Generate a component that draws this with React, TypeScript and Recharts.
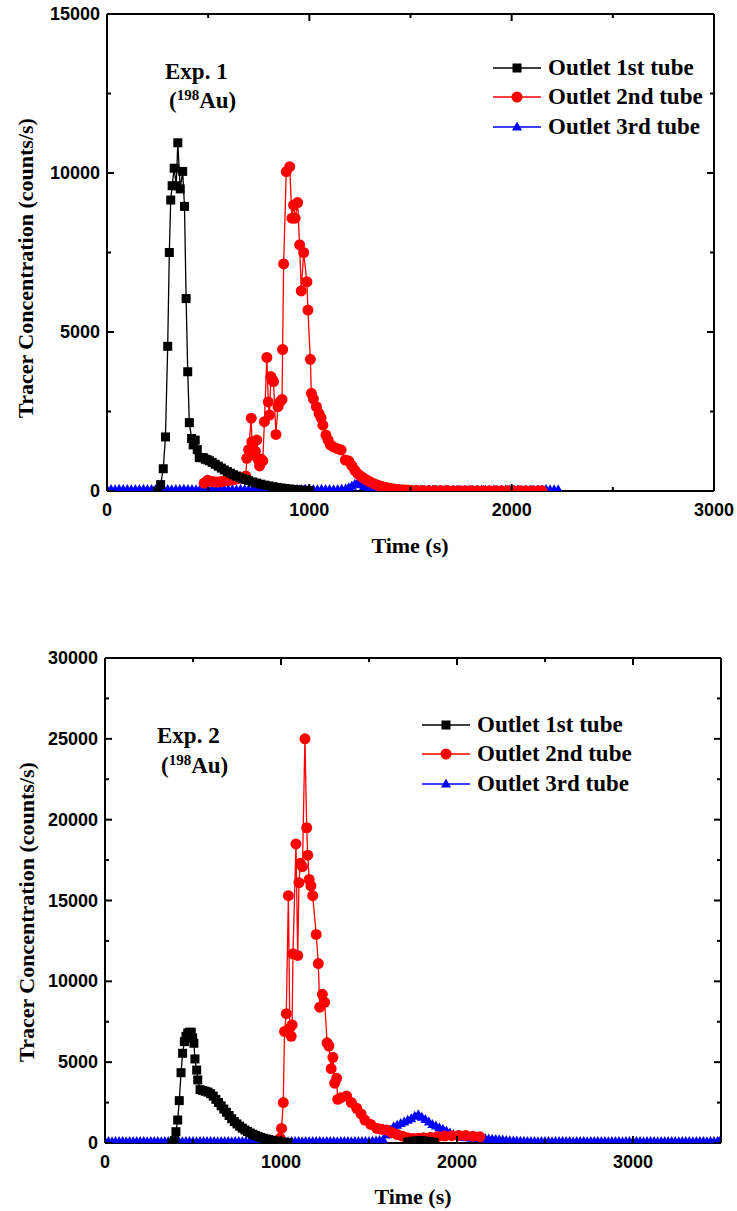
import React from 'react';
import { LineChart, Line, XAxis, YAxis, Legend } from 'recharts';

const SERIF = '"Liberation Serif", "Times New Roman", serif';
const SANS = '"Liberation Sans", Arial, sans-serif';

// ---- Exp. 1 ----
const exp1Tube1Time = [250, 265, 278, 289, 300, 308, 315, 322, 332, 342, 350, 362, 374, 383, 391, 399, 407, 418, 426, 436, 446, 456, 466, 476, 486, 496, 506, 520, 535, 550, 565, 580, 595, 610, 625, 640, 655, 670, 685, 700, 720, 740, 760, 780, 800, 820, 840, 860, 880, 900, 920, 940, 960, 980, 1000];
const exp1Tube1Counts = [0, 200, 700, 1700, 4550, 7500, 9150, 9600, 10150, 9600, 10950, 9500, 10050, 8950, 6050, 3750, 2150, 1650, 1450, 1600, 1300, 1050, 1050, 1050, 1000, 980, 950, 900, 840, 780, 720, 660, 610, 560, 510, 470, 430, 395, 360, 325, 285, 250, 215, 185, 160, 135, 115, 95, 80, 65, 50, 40, 30, 20, 10];

const exp1Tube2Time = [480, 498, 515, 530, 545, 560, 575, 590, 609, 625, 640, 658, 672, 686, 691, 700, 713, 716, 725, 733, 740, 748, 754, 762, 770, 778, 790, 797, 803, 810, 817, 823, 835, 845, 855, 865, 868, 873, 886, 903, 914, 922, 930, 942, 952, 960, 972, 988, 993, 1005, 1010, 1020, 1035, 1048, 1058, 1067, 1082, 1093, 1104, 1120, 1140, 1157, 1178, 1195, 1210, 1225, 1240, 1255, 1270, 1285, 1300, 1320, 1340, 1360, 1380, 1400, 1420, 1440, 1460, 1480, 1500, 1530, 1560, 1590, 1620, 1650, 1680, 1710, 1740, 1770, 1800, 1830, 1860, 1890, 1920, 1950, 1980, 2010, 2040, 2070, 2100, 2130, 2150];
const exp1Tube2Counts = [250, 340, 300, 290, 280, 290, 310, 320, 340, 360, 380, 400, 430, 470, 1030, 1300, 2290, 1550, 1130, 1250, 1600, 990, 790, 1000, 945, 2180, 4200, 2800, 2390, 3600, 3500, 3440, 1780, 2650, 2800, 2880, 4450, 7140, 10040, 10200, 8580, 8990, 8580, 9070, 7740, 6290, 7500, 6580, 5690, 4140, 3070, 2900, 2650, 2440, 2300, 2070, 1760, 1600, 1450, 1380, 1330, 1290, 975, 940, 800, 650, 540, 460, 400, 340, 290, 230, 180, 140, 110, 85, 65, 50, 40, 30, 25, 20, 18, 15, 14, 12, 12, 10, 10, 10, 8, 8, 8, 6, 6, 6, 5, 5, 5, 5, 5, 5, 5];

const exp1Tube3Time = [
  0, 20, 40, 60, 80, 100, 120, 140, 160, 180, 200, 220, 240, 260, 280, 300, 320, 340, 360, 380,
  400, 420, 440, 460, 480, 500, 520, 540, 560, 580, 600, 620, 640, 660, 680, 700, 720, 740, 760, 780,
  800, 820, 840, 860, 880, 900, 920, 940, 960, 980, 1000, 1020, 1040, 1060, 1080, 1100, 1120, 1140, 1160, 1180,
  1195, 1210, 1225, 1240, 1255, 1270, 1290, 1310, 1330,
  1350, 1370, 1390, 1410, 1430, 1450, 1470, 1490, 1510, 1530, 1550, 1570, 1590, 1610, 1630, 1650, 1670, 1690, 1710, 1730,
  1750, 1770, 1790, 1810, 1830, 1850, 1870, 1890, 1910, 1930, 1950, 1970, 1990, 2010, 2030, 2050, 2070, 2090, 2110, 2130,
  2150, 2170, 2190, 2210, 2230,
];
const exp1Tube3Counts = [
  45, 50, 40, 55, 45, 50, 40, 50, 45, 55, 45, 50, 40, 55, 45, 50, 40, 50, 45, 55,
  45, 50, 40, 55, 45, 50, 40, 50, 45, 55, 45, 50, 40, 55, 45, 50, 40, 50, 45, 55,
  45, 50, 40, 55, 45, 50, 40, 50, 45, 55, 45, 50, 40, 55, 45, 50, 40, 50, 60, 70,
  100, 150, 210, 270, 200, 140, 90, 65, 50,
  45, 40, 35, 30, 30, 25, 25, 30, 25, 25, 30, 25, 25, 30, 25, 25, 30, 25, 25, 30,
  25, 25, 30, 25, 25, 30, 25, 25, 30, 25, 25, 30, 25, 25, 30, 25, 25, 30, 25, 35,
  40, 45, 40, 40, 40,
];

// ---- Exp. 2 ----
const exp2Tube1Time = [380, 395, 403, 413, 422, 432, 441, 451, 460, 470, 480, 490, 498, 505, 511, 521, 527, 540, 555, 570, 585, 600, 615, 630, 645, 660, 675, 690, 705, 720, 735, 750, 765, 780, 795, 810, 825, 840, 855, 870, 885, 900, 915, 930, 945, 960, 975, 990, 1005, 1020, 1040, 1400, 1720, 1750, 1780, 1810, 1840, 1870];
const exp2Tube1Counts = [0, 150, 700, 1420, 2620, 4350, 5550, 6270, 6600, 6800, 6850, 6850, 6500, 6170, 5200, 4510, 3900, 3300, 3250, 3200, 3150, 3050, 2900, 2700, 2500, 2300, 2100, 1900, 1700, 1500, 1330, 1180, 1040, 920, 810, 710, 620, 540, 470, 400, 340, 290, 250, 210, 170, 140, 110, 80, 60, 40, 20, null, 60, 120, 160, 140, 90, 40];

const exp2Tube2Time = [995, 1003, 1013, 1020, 1030, 1042, 1050, 1058, 1063, 1068, 1085, 1095, 1102, 1110, 1122, 1136, 1146, 1152, 1160, 1170, 1180, 1200, 1212, 1220, 1235, 1248, 1262, 1272, 1285, 1295, 1305, 1316, 1322, 1340, 1373, 1400, 1430, 1455, 1477, 1510, 1544, 1570, 1600, 1630, 1660, 1690, 1720, 1750, 1780, 1810, 1850, 1890, 1930, 1970, 2010, 2050, 2090, 2130];
const exp2Tube2Counts = [300, 900, 2500, 6900, 8000, 15300, 7100, 6600, 7300, 11700, 18500, 11600, 16100, 17300, 17100, 25000, 19500, 17800, 16300, 15900, 15300, 12900, 11100, 8400, 9200, 8700, 6200, 6000, 4600, 5300, 3700, 4000, 2700, 2800, 2900, 2500, 2150, 1800, 1420, 1150, 910, 850, 800, 650, 520, 420, 330, 280, 300, 320, 360, 400, 430, 450, 470, 460, 420, 380];

const exp2Tube3Time = [
  0, 20, 40, 60, 80, 100, 120, 140, 160, 180, 200, 220, 240, 260, 280, 300, 320, 340, 360, 380,
  400, 420, 440, 460, 480, 500, 520, 540, 560, 580, 600, 620, 640, 660, 680, 700, 720, 740, 760, 780,
  800, 820, 840, 860, 880, 900, 920, 940, 960, 980, 1000, 1020, 1040, 1060, 1080, 1100, 1120, 1140, 1160, 1180,
  1200, 1220, 1240, 1260, 1280, 1300, 1320, 1340, 1360, 1380, 1400, 1420, 1440, 1460, 1480, 1500, 1520, 1540, 1560,
  1580, 1600, 1620, 1640, 1660, 1680, 1700, 1720, 1740, 1760, 1780, 1800, 1820, 1840, 1860, 1880, 1900, 1920, 1940, 1960,
  1980, 2000, 2020, 2040, 2060, 2080, 2100, 2120, 2140, 2160, 2180, 2200, 2220, 2240, 2260, 2280, 2300, 2320, 2340, 2360,
  2380, 2400,
  2420, 2440, 2460, 2480, 2500, 2520, 2540, 2560, 2580, 2600, 2620, 2640, 2660, 2680, 2700, 2720, 2740, 2760, 2780, 2800,
  2820, 2840, 2860, 2880, 2900, 2920, 2940, 2960, 2980, 3000, 3020, 3040, 3060, 3080, 3100, 3120, 3140, 3160, 3180, 3200,
  3220, 3240, 3260, 3280, 3300, 3320, 3340, 3360, 3380, 3400, 3420, 3440, 3460, 3480, 3490,
];
const exp2Tube3Counts = [
  90, 100, 85, 95, 90, 100, 85, 95, 90, 100, 90, 100, 85, 95, 90, 100, 85, 95, 90, 100,
  90, 100, 85, 95, 90, 100, 85, 95, 90, 100, 90, 100, 85, 95, 90, 100, 85, 95, 90, 100,
  90, 100, 85, 95, 90, 100, 85, 95, 90, 100, 90, 100, 85, 95, 90, 100, 85, 95, 90, 100,
  90, 100, 85, 95, 90, 100, 85, 95, 90, 100, 85, 95, 90, 100, 95, 100, 110, 120, 150,
  200, 500, 800, 1000, 1100, 1200, 1300, 1400, 1500, 1650, 1750, 1600, 1450, 1300, 1150, 1050, 950, 850, 750, 620,
  520, 420, 370, 350, 330, 310, 290, 280, 270, 260, 250, 235, 220, 200, 180, 160, 145, 130, 120, 110,
  105, 100,
  90, 100, 85, 95, 90, 100, 85, 95, 90, 100, 90, 100, 85, 95, 90, 100, 85, 95, 90, 100,
  90, 100, 85, 95, 90, 100, 85, 95, 90, 100, 90, 100, 85, 95, 90, 100, 85, 95, 90, 100,
  90, 100, 85, 95, 90, 100, 85, 95, 90, 100, 85, 95, 90, 100, 90,
];

type Pt = { t: number; v: number | null };
const toPoints = (ts: number[], vs: (number | null)[]): Pt[] => ts.map((t, i) => ({ t, v: vs[i] }));

type Shape = 'square' | 'circle' | 'triangle';
interface SeriesDef { key: string; name: string; color: string; shape: Shape; data: Pt[] }

const LEGEND = [
  { name: 'Outlet 1st tube', color: '#000000', shape: 'square' as Shape },
  { name: 'Outlet 2nd tube', color: '#ff0000', shape: 'circle' as Shape },
  { name: 'Outlet 3rd tube', color: '#0000ff', shape: 'triangle' as Shape },
];

function markerEl(shape: Shape, cx: number, cy: number, color: string, key?: any) {
  if (shape === 'square') return <rect key={key} x={cx - 4.5} y={cy - 4.5} width={9} height={9} fill={color} />;
  if (shape === 'circle') return <circle key={key} cx={cx} cy={cy} r={5.5} fill={color} />;
  return <path key={key} d={`M${cx},${cy - 5.5}L${cx + 5},${cy + 3.5}L${cx - 5},${cy + 3.5}Z`} fill={color} />;
}

function AxisTick(props: any) {
  const { x, y, payload, side, majors } = props;
  const v = payload.value;
  const major = majors.includes(v);
  const len = major ? 7 : 4;
  const s = { stroke: '#000', strokeWidth: 2 };
  const labelStyle = { fontFamily: SANS, fontWeight: 700, fontSize: 18, fill: '#000' };
  if (side === 'left') {
    return (
      <g>
        <line x1={x} y1={y} x2={x + len} y2={y} {...s} />
        {major && <text x={x - 7} y={y} textAnchor="end" dominantBaseline="central" style={labelStyle}>{v}</text>}
      </g>
    );
  }
  if (side === 'right') return <line x1={x} y1={y} x2={x - len} y2={y} {...s} />;
  if (side === 'top') return <line x1={x} y1={y} x2={x} y2={y + len} {...s} />;
  return (
    <g>
      <line x1={x} y1={y} x2={x} y2={y - len} {...s} />
      {major && <text x={x} y={y + 19} textAnchor="middle" dominantBaseline="central" style={labelStyle}>{v}</text>}
    </g>
  );
}

function LegendBox() {
  return (
    <div style={{ fontFamily: SERIF, fontWeight: 700, fontSize: 23, color: '#000' }}>
      {LEGEND.map((it) => (
        <div key={it.name} style={{ display: 'flex', alignItems: 'center', height: 29.5, whiteSpace: 'nowrap' }}>
          <svg width={48} height={14} style={{ marginRight: 7 }}>
            <line x1={0} y1={7} x2={48} y2={7} stroke={it.color} strokeWidth={1.5} />
            {markerEl(it.shape, 24, 7, it.color)}
          </svg>
          <span>{it.name}</span>
        </div>
      ))}
    </div>
  );
}

interface PanelProps {
  top: number;
  height: number;
  margin: { top: number; right: number; bottom: number; left: number };
  xMax: number;
  yMax: number;
  xTicks: number[];
  xMajors: number[];
  yTicks: number[];
  yMajors: number[];
  series: SeriesDef[];
  legendPos: { left: number; top: number };
  yTitle: { x: number; y: number };
  xTitle: { x: number; y: number };
  expLabel: string;
  expPos: { left: number; top: number; lineHeight: number };
}

function Panel(p: PanelProps) {
  const axisLine = { stroke: '#000', strokeWidth: 2 };
  // two corner points so the mirrored top/right axes get the same domain
  const frame = [{ t: 0, v: 0 }, { t: p.xMax, v: p.yMax }];
  return (
    <div style={{ position: 'absolute', left: 0, top: p.top, width: 737, height: p.height }}>
      <LineChart width={737} height={p.height} margin={p.margin}>
        <XAxis
          xAxisId="b" dataKey="t" type="number" domain={[0, p.xMax]} ticks={p.xTicks} interval={0}
          allowDataOverflow height={50} tickSize={0} tickMargin={0} axisLine={axisLine} tickLine={false}
          tick={(tp: any) => <AxisTick {...tp} side="bottom" majors={p.xMajors} />}
          label={{ content: () => (
            <text x={p.xTitle.x} y={p.xTitle.y} textAnchor="middle" dominantBaseline="central"
              style={{ fontFamily: SERIF, fontWeight: 700, fontSize: 22, fill: '#000' }}>Time (s)</text>
          ) }}
        />
        <XAxis
          xAxisId="t" orientation="top" dataKey="t" type="number" domain={[0, p.xMax]} ticks={p.xTicks} interval={0}
          allowDataOverflow height={1} tickSize={0} tickMargin={0} axisLine={axisLine} tickLine={false}
          tick={(tp: any) => <AxisTick {...tp} side="top" majors={p.xMajors} />}
        />
        <YAxis
          yAxisId="l" type="number" domain={[0, p.yMax]} ticks={p.yTicks} interval={0}
          allowDataOverflow width={60} tickSize={0} tickMargin={0} axisLine={axisLine} tickLine={false}
          tick={(tp: any) => <AxisTick {...tp} side="left" majors={p.yMajors} />}
          label={{ content: () => (
            <text x={p.yTitle.x} y={p.yTitle.y} textAnchor="middle" dominantBaseline="central"
              transform={`rotate(-90 ${p.yTitle.x} ${p.yTitle.y})`}
              style={{ fontFamily: SERIF, fontWeight: 700, fontSize: 22, fill: '#000' }}>Tracer Concentration (counts/s)</text>
          ) }}
        />
        <YAxis
          yAxisId="r" orientation="right" type="number" domain={[0, p.yMax]} ticks={p.yTicks} interval={0}
          allowDataOverflow width={1} tickSize={0} tickMargin={0} axisLine={axisLine} tickLine={false}
          tick={(tp: any) => <AxisTick {...tp} side="right" majors={p.yMajors} />}
        />
        <Line
          xAxisId="t" yAxisId="r" data={frame} dataKey="v" stroke="none" dot={false}
          activeDot={false} isAnimationActive={false} legendType="none"
        />
        {p.series.map((s) => (
          <Line
            key={s.key} xAxisId="b" yAxisId="l" data={s.data} dataKey="v" name={s.name}
            type="linear" stroke={s.color} strokeWidth={1.3} isAnimationActive={false}
            activeDot={false} connectNulls={false}
            dot={(dp: any) => {
              if (dp.cx == null || dp.cy == null || dp.value == null) return <g key={`${s.key}-${dp.index}`} />;
              return markerEl(s.shape, dp.cx, dp.cy, s.color, `${s.key}-${dp.index}`);
            }}
          />
        ))}
        <Legend
          layout="vertical" align="center" verticalAlign="middle"
          content={() => <LegendBox />}
          wrapperStyle={{ left: p.legendPos.left, top: p.legendPos.top, width: 'auto', bottom: 'auto', right: 'auto' }}
        />
      </LineChart>
      <div style={{ position: 'absolute', left: p.expPos.left, top: p.expPos.top, fontFamily: SERIF, fontWeight: 700, fontSize: 23, lineHeight: `${p.expPos.lineHeight}px`, color: '#000', whiteSpace: 'nowrap' }}>
        <div>{p.expLabel}</div>
        <div style={{ paddingLeft: 4 }}>(<sup style={{ fontSize: 15, verticalAlign: 8, lineHeight: 0 }}>198</sup>Au)</div>
      </div>
    </div>
  );
}

export default function App() {
  const exp1Series: SeriesDef[] = [
    { key: 'e1t3', name: LEGEND[2].name, color: '#0000ff', shape: 'triangle', data: toPoints(exp1Tube3Time, exp1Tube3Counts) },
    { key: 'e1t2', name: LEGEND[1].name, color: '#ff0000', shape: 'circle', data: toPoints(exp1Tube2Time, exp1Tube2Counts) },
    { key: 'e1t1', name: LEGEND[0].name, color: '#000000', shape: 'square', data: toPoints(exp1Tube1Time, exp1Tube1Counts) },
  ];
  const exp2Series: SeriesDef[] = [
    { key: 'e2t3', name: LEGEND[2].name, color: '#0000ff', shape: 'triangle', data: toPoints(exp2Tube3Time, exp2Tube3Counts) },
    { key: 'e2t2', name: LEGEND[1].name, color: '#ff0000', shape: 'circle', data: toPoints(exp2Tube2Time, exp2Tube2Counts) },
    { key: 'e2t1', name: LEGEND[0].name, color: '#000000', shape: 'square', data: toPoints(exp2Tube1Time, exp2Tube1Counts) },
  ];

  return (
    <div style={{ position: 'absolute', left: 0, top: 0, width: 737, height: 1211, background: '#fff' }}>
      <Panel
        top={0} height={600}
        margin={{ top: 13, right: 22, bottom: 600 - 491 - 50, left: 47 }}
        xMax={3000} yMax={15000}
        xTicks={[0, 500, 1000, 1500, 2000, 2500, 3000]} xMajors={[0, 1000, 2000, 3000]}
        yTicks={[0, 2500, 5000, 7500, 10000, 12500, 15000]} yMajors={[0, 5000, 10000, 15000]}
        series={exp1Series}
        legendPos={{ left: 493, top: 53 }}
        yTitle={{ x: 25, y: 268 }} xTitle={{ x: 410, y: 545 }}
        expLabel="Exp. 1" expPos={{ left: 165, top: 57, lineHeight: 29 }}
      />
      <Panel
        top={620} height={591}
        margin={{ top: 37, right: 15, bottom: 591 - 523 - 50, left: 45 }}
        xMax={3500} yMax={30000}
        xTicks={[0, 500, 1000, 1500, 2000, 2500, 3000, 3500]} xMajors={[0, 1000, 2000, 3000]}
        yTicks={[0, 2500, 5000, 7500, 10000, 12500, 15000, 17500, 20000, 22500, 25000, 27500, 30000]}
        yMajors={[0, 5000, 10000, 15000, 20000, 25000, 30000]}
        series={exp2Series}
        legendPos={{ left: 422, top: 90 }}
        yTitle={{ x: 26, y: 292 }} xTitle={{ x: 413, y: 576 }}
        expLabel="Exp. 2" expPos={{ left: 157, top: 101, lineHeight: 30 }}
      />
    </div>
  );
}
